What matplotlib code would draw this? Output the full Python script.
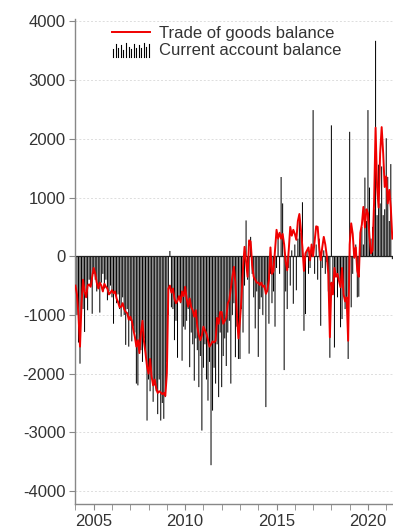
import matplotlib
matplotlib.use("Agg")
import matplotlib.pyplot as plt
from matplotlib.legend_handler import HandlerBase
from matplotlib.lines import Line2D
from matplotlib.patches import Patch
from matplotlib.ticker import MultipleLocator
import numpy as np

plt.rcParams['font.family'] = ['Liberation Sans', 'DejaVu Sans']
plt.rcParams['axes.unicode_minus'] = False

start_year = 2004
years_ticks = [2005, 2010, 2015, 2020]
y_ticks = [-4000, -3000, -2000, -1000, 0, 1000, 2000, 3000, 4000]

trade_balance = [
    -500, -650, -1000, -1540, -800, -400, -600, -700, -500, -480, -520, -350,      # 2004
    -200, -300, -450, -550, -450, -500, -600, -470, -520, -550, -650, -620,        # 2005
    -580, -630, -600, -720, -780, -870, -860, -800, -900, -950, -970, -1080,       # 2006
    -1030, -1100, -1250, -1370, -1540, -1430, -1650, -1300, -1100, -1450, -1650, -1880,  # 2007
    -2000, -1750, -2050, -2200, -2100, -2250, -2330, -2300, -2320, -2350, -2330, -2380,  # 2008
    -2000, -550, -500, -620, -550, -720, -800, -760, -680, -780, -600, -680,       # 2009
    -520, -720, -860, -720, -870, -920, -1030, -920, -1200, -1350, -1430, -1350,   # 2010
    -1200, -1260, -1320, -1430, -1540, -1500, -1450, -1470, -1440, -1050, -1150, -950,  # 2011
    -950, -1150, -1100, -1050, -800, -750, -550, -350, -180, -450, -1000, -1400,   # 2012
    -1100, -700, -200, 160, -100, -350, 270, 250, -150, -350, -400, -450,          # 2013
    -450, -490, -450, -520, -500, -640, -580, -400, 150, -300, -250, 100,          # 2014
    450, 300, 400, 300, 380, 200, -100, -240, 100, 500, 350, 450,                  # 2015
    380, 280, 600, 720, 450, 150, -250, 50, 100, 150, -70, 200,                    # 2016
    0, 250, 510, 500, 150, -70, 150, 330, 200, 0, -300, -1380,                     # 2017
    -450, -650, -200, -350, -300, -420, -530, -200, -650, -770, -700, -1440,       # 2018
    200, 560, 380, -20, 150, -250, -350, 400, 540, 840, 490, 800,                  # 2019
    730, 330, 50, 100, 900, 2190, 1180, 830, 1750, 2200, 1750, 1180,               # 2020
    1360, 900, 1130, 830, 300,                                                     # 2021
]

current_account = [
    -800, -1000, -1470, -1830, -700, -900, -1290, -600, -920, -400, -500, -980,    # 2004
    -300, -400, -600, -500, -960, -450, -300, -550, -400, -750, -600, -500,        # 2005
    -700, -1150, -600, -800, -650, -900, -1030, -700, -1000, -1510, -900, -1540,   # 2006
    -1100, -1450, -1200, -1300, -2170, -2200, -1500, -1600, -1800, -1400, -1700, -2800,  # 2007
    -2100, -2300, -2000, -2480, -2200, -2300, -2690, -2100, -2800, -2500, -2770, -2400,  # 2008
    -1800, -1000, 90, -870, -900, -1430, -1100, -1730, -700, -800, -1780, -1200,   # 2009
    -1250, -1100, -900, -1890, -1300, -1500, -2120, -1400, -1600, -2230, -1700, -2970,  # 2010
    -1900, -1500, -2100, -2460, -1800, -3560, -2630, -1900, -2170, -1500, -2400, -1300,  # 2011
    -2230, -1700, -1400, -1870, -1300, -1100, -2170, -1000, -800, -1720, -1200, -1750,  # 2012
    -1750, -900, -1300, -500, 610, -400, -1660, 330, -300, -700, -1230, -600,      # 2013
    -1715, -900, -700, -1000, -500, -2570, -600, -1150, -300, -800, -600, -1200,   # 2014
    -200, 300, -300, 1350, 900, -1940, -600, -900, -200, -500, 100, -810,          # 2015
    200, -580, 300, 700, 400, 920, -1270, -985, 100, -300, -200, 150,              # 2016
    2490, -300, 200, -400, 300, -1185, -200, 100, -300, -100, -600, -1730,         # 2017
    2230, -500, -1555, -300, -700, -400, -1210, -1070, -600, -900, -800, -1750,    # 2018
    2120, -870, -300, -40, 200, -700, -690, 300, 500, 200, 1340, 600,              # 2019
    2490, 1170, 300, 500, 800, 3670, 700, 1560, 900, 1530, 700, 800,               # 2020
    2010, 1350, 600, 1570, -50,                                                    # 2021
]

labels = ["Trade of goods balance", "Current account balance"]

n = len(trade_balance)
x = start_year + np.arange(n) / 12.0


class BarsHandler(HandlerBase):
    def create_artists(self, legend, orig_handle, xdescent, ydescent,
                       width, height, fontsize, trans):
        hs = [0.55, 0.9, 0.6, 0.8, 0.5, 0.95, 0.7, 0.55, 0.9, 0.65, 0.85, 0.6,
              0.95, 0.7, 0.9]
        arts = []
        k = len(hs)
        for i, h in enumerate(hs):
            xx = -xdescent + (i + 0.5) * width / k
            y0 = -ydescent - 0.15 * height
            ln = Line2D([xx, xx], [y0, y0 + h * height * 1.25], color='black',
                        lw=0.8, transform=trans)
            arts.append(ln)
        return arts


fig = plt.figure(figsize=(3.93, 5.31), dpi=100)
ax = fig.add_axes([0.191, 0.051, 0.809, 0.913])

bars = ax.bar(x, current_account, width=0.055, color='black', linewidth=0, zorder=2)
for b in bars:
    b.set_snap(False)
ax.axhline(0, color='#222222', lw=0.9, zorder=2.5)
line, = ax.plot(x, trade_balance, color='#f00000', lw=1.4, zorder=3)

ax.set_xlim(2003.98, 2021.37)
ax.set_ylim(-4220, 4040)
ax.set_yticks(y_ticks)
ax.set_xticks(years_ticks)
ax.xaxis.set_minor_locator(MultipleLocator(1))
ax.grid(axis='y', color='#dddddd', linestyle=(0, (2, 2)), lw=0.7, zorder=0)
ax.set_axisbelow(True)

for s in ['top', 'right']:
    ax.spines[s].set_visible(False)
for s in ['left', 'bottom']:
    ax.spines[s].set_color('#888888')
    ax.spines[s].set_linewidth(1.0)

ax.tick_params(axis='both', which='major', direction='out', length=4,
               color='#888888', labelsize=12, labelcolor='#333333', pad=3)
ax.tick_params(axis='x', which='minor', direction='out', length=4, color='#888888')

bar_handle = Patch(color='black')
leg = ax.legend([line, bar_handle], labels, loc='upper left',
                bbox_to_anchor=(0.095, 1.0), frameon=False, fontsize=12,
                handlelength=2.3, handletextpad=0.5, labelspacing=0.15,
                borderaxespad=0.0, labelcolor='#333333',
                handler_map={Patch: BarsHandler()})

fig.savefig('out.png', dpi=100)
